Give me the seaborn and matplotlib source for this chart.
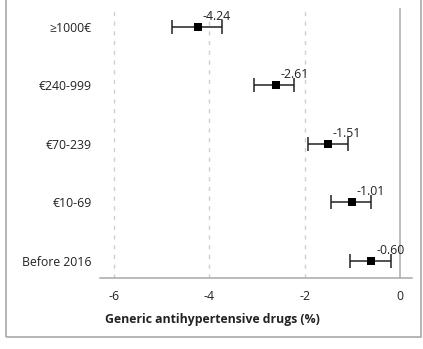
import matplotlib
matplotlib.use("Agg")
import matplotlib.pyplot as plt
import matplotlib.patches as mpatches
import seaborn as sns
import pandas as pd

# Estimates and 95% confidence intervals by category
categories = ["≥1000€", "€240-999", "€70-239", "€10-69", "Before 2016"]
estimates = [-4.24, -2.61, -1.51, -1.01, -0.60]
ci_low = [-4.79, -3.06, -1.94, -1.45, -1.04]
ci_high = [-3.74, -2.22, -1.10, -0.60, -0.20]
x_ticks = [-6, -4, -2, 0]
x_label = "Generic antihypertensive drugs (%)"

sns.set_theme(style="white")
plt.rcParams["font.family"] = ["Open Sans", "DejaVu Sans"]
plt.rcParams["text.color"] = "#222222"
plt.rcParams["xtick.color"] = "#222222"
plt.rcParams["ytick.color"] = "#222222"

FS = 8.8

df = pd.DataFrame({"category": categories, "estimate": estimates,
                   "lo": ci_low, "hi": ci_high})

fig = plt.figure(figsize=(4.23, 3.49), dpi=100)
ax = fig.add_axes([100 / 423, 1 - 278 / 349, 312 / 423, 270 / 349])

# reference lines
for xv in x_ticks[:-1]:
    ax.axvline(xv, color="#cfcfcf", lw=1.0, ls=(0, (3, 4)), zorder=0)
ax.axvline(0, color="#bdbdbd", lw=1.4, zorder=0)

# confidence intervals
ax.errorbar(df["estimate"], df["category"],
            xerr=[df["estimate"] - df["lo"], df["hi"] - df["estimate"]],
            fmt="none", ecolor="#222222", elinewidth=1.1, capsize=4.8,
            capthick=1.1, zorder=2)

# point estimates
sns.scatterplot(data=df, x="estimate", y="category", marker="s", s=32,
                color="black", edgecolor="black", linewidth=0, ax=ax, zorder=3)

for _, r in df.iterrows():
    ax.annotate(f"{r['estimate']:.2f}", (r["estimate"], r["category"]),
                xytext=(3.5, 3.0), textcoords="offset points",
                ha="left", va="bottom", fontsize=FS, color="#222222")

ax.set_xlim(-6.29, 0.25)
ax.set_ylim(4.29, -0.32)
ax.set_xticks(x_ticks)
ax.set_xticklabels([str(t) for t in x_ticks])
ax.tick_params(axis="x", length=0, pad=9, labelsize=FS)
ax.tick_params(axis="y", length=0, pad=6, labelsize=FS)
ax.set_xlabel("")
ax.set_ylabel("")
for side in ["left", "right", "top"]:
    ax.spines[side].set_visible(False)
ax.spines["bottom"].set_color("#a8a8a8")
ax.spines["bottom"].set_linewidth(1.1)

fig.text(212.5 / 423, 1 - 319 / 349, x_label, ha="center", va="center",
         fontsize=FS, fontweight="bold", color="#222222")

# outer frame
y0 = 1 - 337 / 349
frame = mpatches.Rectangle((6 / 423, y0), 415 / 423, 1.05 - y0,
                           transform=fig.transFigure, fill=False,
                           edgecolor="#a8a8a8", lw=1.2, clip_on=False)
fig.patches.append(frame)

fig.savefig("out.png", dpi=100)
